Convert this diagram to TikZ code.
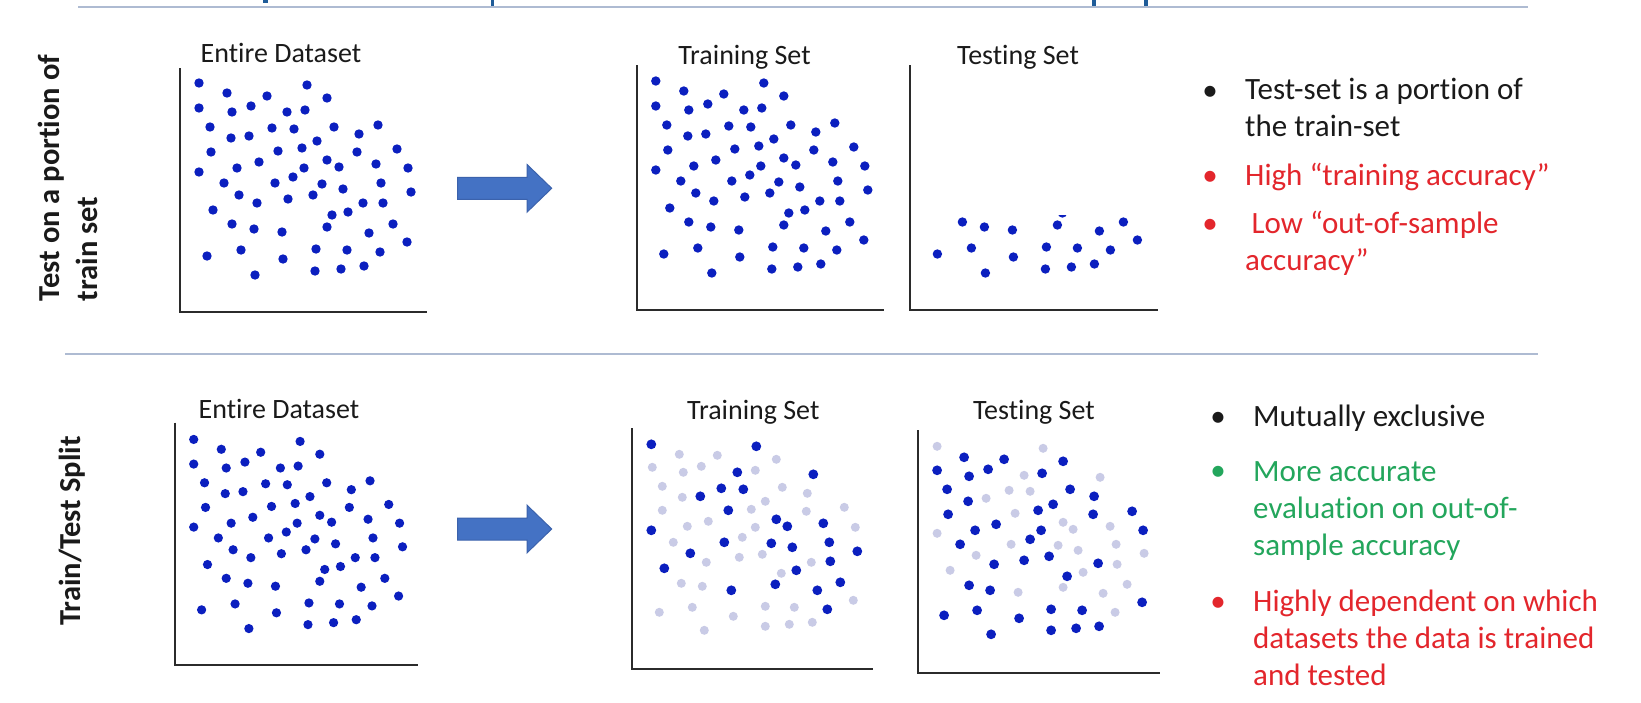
\documentclass[tikz,border=0pt]{standalone}
\usepackage{fontspec}
\setmainfont{Carlito}[Ligatures=NoCommon]
\usetikzlibrary{shapes.arrows}
\definecolor{dotblue}{HTML}{0B1FBF}
\definecolor{dotpale}{HTML}{C9CBE6}
\definecolor{arrowblue}{HTML}{4472C4}
\definecolor{arrowedge}{HTML}{3B62AC}
\definecolor{rulegray}{HTML}{AEBBD2}
\definecolor{axisgray}{HTML}{2B2B2B}
\definecolor{inkblack}{HTML}{1A1A1A}
\definecolor{hotred}{HTML}{E3262C}
\definecolor{okgreen}{HTML}{23A65C}
\definecolor{titleblue}{HTML}{1F5C99}

% point clouds, offsets from the corner of each plot
\newcommand{\upperdots}{19/-229,127/-227,47/-219,87/-216,147/-214,19/-204,71/-206,52/-200,107/-200,125/-202,30/-185,92/-184,114/-183,154/-185,198/-187,179/-178,51/-174,69/-176,137/-171,31/-160,98/-161,122/-164,177/-160,217/-163,19/-140,57/-144,79/-150,124/-144,147/-152,159/-145,196/-148,228/-144,44/-129,95/-129,113/-135,142/-128,163/-123,201/-129,231/-120,59/-117,77/-109,108/-113,133/-117,183/-109,203/-109,33/-102,152/-97,168/-100}
\newcommand{\lowerdots}{52/-88,74/-83,102/-80,147/-85,189/-79,213/-88,27/-56,61/-62,103/-53,136/-63,167/-62,200/-60,227/-70,75/-37,135/-41,161/-43,184/-46}
\newcommand{\traindark}{19/-225,124/-223,105/-197,181/-195,89/-181,111/-180,68/-173,96/-159,19/-139,144/-150,155/-143,191/-146,92/-127,139/-126,160/-122,197/-127,225/-118,58/-116,32/-101,164/-99,198/-108,143/-85,99/-79,185/-79,208/-87,195/-60}
\newcommand{\trainpale}{47/-215,85/-214,144/-210,20/-202,69/-203,51/-197,123/-199,30/-183,150/-182,50/-172,175/-176,133/-168,30/-159,119/-160,174/-158,212/-162,55/-143,76/-148,123/-142,223/-142,41/-127,110/-132,74/-107,107/-112,130/-115,179/-107,149/-96,49/-86,70/-83,221/-69,60/-62,27/-57,101/-53,133/-63,162/-62,133/-43,157/-45,180/-47,72/-39}
\newcommand{\testdark}{46/-216,86/-214,145/-212,19/-203,51/-197,70/-204,124/-200,29/-184,152/-184,50/-172,176/-177,30/-159,135/-169,120/-163,175/-159,214/-162,78/-149,57/-143,123/-143,225/-143,112/-134,42/-129,106/-113,131/-117,76/-109,180/-110,149/-97,51/-88,72/-83,224/-71,26/-58,59/-63,133/-64,164/-63,101/-55,73/-39,133/-43,158/-45,181/-47}
\newcommand{\testpale}{19/-227,125/-225,106/-198,182/-196,68/-175,91/-183,112/-182,97/-160,145/-151,155/-144,192/-147,19/-140,93/-129,140/-128,160/-123,198/-129,226/-120,58/-118,199/-109,32/-103,165/-101,145/-86,100/-81,185/-80,209/-89,197/-61}

\begin{document}
\begin{tikzpicture}[x=1pt, y=-1pt,
    dot/.style={fill=dotblue},
    paledot/.style={fill=dotpale},
    axis/.style={draw=axisgray, line width=2pt},
    divider/.style={draw=rulegray, line width=1.6pt},
    settitle/.style={anchor=base, inner sep=0pt, text=inkblack, font=\fontsize{28}{33}\selectfont},
    rowlabel/.style={rotate=90, align=left, inner sep=0pt, text=inkblack,
                     font=\bfseries\fontsize{30.5}{38}\selectfont},
    bultext/.style={anchor=base west, align=left, inner sep=0pt, font=\fontsize{31}{37}\selectfont},
    bulmark/.style={anchor=base, inner sep=0pt, font=\fontsize{31}{37}\selectfont},
    bigarrow/.style={single arrow, fill=arrowblue, draw=arrowedge, line width=1pt,
                     single arrow head extend=12.85pt, single arrow tip angle=88,
                     single arrow head indent=0pt, inner xsep=0pt, inner ysep=10.5pt,
                     minimum height=94pt}
  ]
  \useasboundingbox[fill=white] (0,0) rectangle (1641,702);

  % cut-off title and rules
  \fill[titleblue] (263,0) rectangle (268,3);
  \fill[titleblue] (490.5,0) rectangle (494,8);
  \fill[titleblue] (1092,0) rectangle (1095.5,8);
  \fill[titleblue] (1144,0) rectangle (1147.5,8);
  \draw[divider] (78,7) -- (1528,7);
  \draw[divider] (65,354) -- (1538,354);

  % row labels
  \node[rowlabel] (lab1) at (68,178) {Test on a portion of\\train set};
  \node[rowlabel] (lab2) at (72,531) {Train/Test Split};

  % plot corners
  \coordinate (p1) at (180,312);
  \coordinate (p2) at (636.8,310);
  \coordinate (p3) at (910.4,310);
  \coordinate (p4) at (175,665);
  \coordinate (p5) at (632.3,669.3);
  \coordinate (p6) at (918.1,673.3);

  % row 1
  \node[settitle] (t1) at (281,62) {Entire Dataset};
  \node[settitle] (t2) at (744.5,64) {Training Set};
  \node[settitle] (t3) at (1018,64) {Testing Set};
  \begin{scope}[shift={(p1)}]
    \draw[axis] (0,-244) -- (0,0) -- (247,0);
    \foreach \px/\py in \upperdots {\fill[dot] (\px,\py) circle[radius=4.7pt];}
    \foreach \px/\py in \lowerdots {\fill[dot] (\px,\py) circle[radius=4.7pt];}
  \end{scope}
  \begin{scope}[shift={(p2)}]
    \draw[axis] (0,-245) -- (0,0) -- (247,0);
    \foreach \px/\py in \upperdots {\fill[dot] (\px,\py) circle[radius=4.7pt];}
    \foreach \px/\py in \lowerdots {\fill[dot] (\px,\py) circle[radius=4.7pt];}
  \end{scope}
  \begin{scope}[shift={(p3)}]
    \draw[axis] (0,-245) -- (0,0) -- (248,0);
    \foreach \px/\py in \lowerdots {\fill[dot] (\px,\py) circle[radius=4.7pt];}
    \begin{scope}
      \clip (140,-95) rectangle (165,-80);
      \fill[dot] (152,-97) circle[radius=4.7pt];
    \end{scope}
  \end{scope}
  \node[bigarrow] (arr1) at (499,188.3) {};

  \node[bulmark, text=inkblack] (m1) at (1210,100) {\textbullet};
  \node[bultext, text=inkblack] (b1) at (1245,136.7) {Test-set is a portion of\\the train-set};
  \node[bulmark, text=hotred] (m2) at (1210,185) {\textbullet};
  \node[bultext, text=hotred] (b2) at (1245,185) {High “training accuracy”};
  \node[bulmark, text=hotred] (m3) at (1210,233.3) {\textbullet};
  \node[bultext, text=hotred] (b3) at (1245,270.3) {\hspace{6.5pt}Low “out-of-sample\\accuracy”};

  % row 2
  \node[settitle] (t4) at (279,418) {Entire Dataset};
  \node[settitle] (t5) at (753.3,419) {Training Set};
  \node[settitle] (t6) at (1033.9,419) {Testing Set};
  \begin{scope}[shift={(p4)}, scale=0.985]
    \draw[axis] (0,-246) -- (0,0) -- (247,0);
    \foreach \px/\py in \upperdots {\fill[dot] (\px,\py) circle[radius=4.7pt];}
    \foreach \px/\py in \lowerdots {\fill[dot] (\px,\py) circle[radius=4.7pt];}
  \end{scope}
  \begin{scope}[shift={(p5)}]
    \draw[axis] (0,-241) -- (0,0) -- (241,0);
    \foreach \px/\py in \trainpale {\fill[paledot] (\px,\py) circle[radius=4.5pt];}
    \foreach \px/\py in \traindark {\fill[dot] (\px,\py) circle[radius=4.9pt];}
  \end{scope}
  \begin{scope}[shift={(p6)}]
    \draw[axis] (0,-243) -- (0,0) -- (242,0);
    \foreach \px/\py in \testpale {\fill[paledot] (\px,\py) circle[radius=4.5pt];}
    \foreach \px/\py in \testdark {\fill[dot] (\px,\py) circle[radius=4.9pt];}
  \end{scope}
  \node[bigarrow] (arr2) at (499,529) {};

  \node[bulmark, text=inkblack] (m4) at (1218,426.7) {\textbullet};
  \node[bultext, text=inkblack] (b4) at (1253,426.7) {Mutually exclusive};
  \node[bulmark, text=okgreen] (m5) at (1218,480) {\textbullet};
  \node[bultext, text=okgreen] (b5) at (1253,555) {More accurate\\evaluation on out-of-\\sample accuracy};
  \node[bulmark, text=hotred] (m6) at (1218,611.7) {\textbullet};
  \node[bultext, text=hotred] (b6) at (1253,685) {Highly dependent on which\\datasets the data is trained\\and tested};
\end{tikzpicture}
\end{document}
